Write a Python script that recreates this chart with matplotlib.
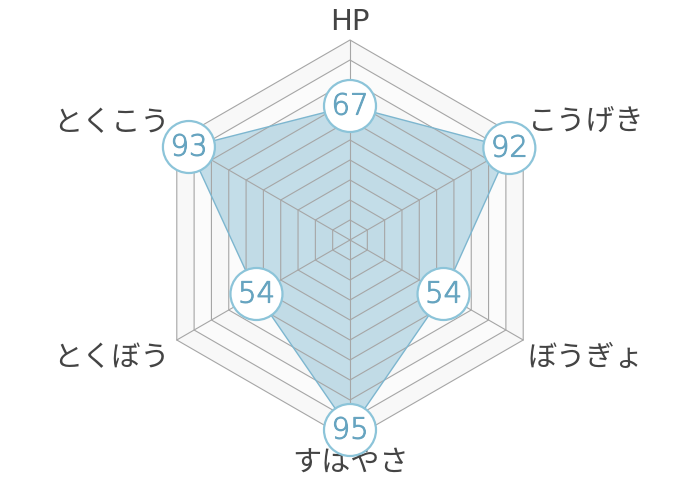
import numpy as np
import matplotlib
matplotlib.use("Agg")
import matplotlib.pyplot as plt
import matplotlib.patheffects as pe
from matplotlib.patches import Polygon, Circle

plt.rcParams['font.family'] = ['DejaVu Sans', 'Noto Sans CJK JP']

# stats, clockwise from top
labels = ["HP", "こうげき", "ぼうぎょ", "すはやさ", "とくぼう", "とくこう"]
values = [67, 92, 54, 95, 54, 93]
max_value = 100
ring_step = 10

angles = np.deg2rad(np.arange(0, 360, 60))


def to_xy(r, a):
    return r * np.sin(a), r * np.cos(a)


fig = plt.figure(figsize=(7, 4.8), dpi=100)
ax = fig.add_axes([0, 0, 1, 1])
ax.set_xlim(-175, 175)
ax.set_ylim(-120, 120)
ax.set_aspect("equal")
ax.axis("off")

# background bands + ring lines
rings = np.arange(max_value, 0, -ring_step)
for i, r in enumerate(rings):
    pts = np.array([to_xy(r, a) for a in angles])
    ax.add_patch(Polygon(pts, closed=True, facecolor="#f8f8f8" if i % 2 == 0 else "#fbfbfb",
                         edgecolor="none", zorder=1))
for r in rings:
    pts = np.array([to_xy(r, a) for a in angles])
    ax.add_patch(Polygon(pts, closed=True, fill=False, edgecolor="#a6a6a6", lw=0.8, zorder=3))

# spokes
for a in angles:
    x, y = to_xy(max_value, a)
    ax.plot([0, x], [0, y], color="#a6a6a6", lw=0.8, zorder=3)

# data polygon
data_pts = np.array([to_xy(v, a) for v, a in zip(values, angles)])
ax.add_patch(Polygon(data_pts, closed=True, facecolor="#8cc0d6", alpha=0.5,
                     edgecolor="none", zorder=2))
ax.add_patch(Polygon(data_pts, closed=True, fill=False, edgecolor="#7db6cf", lw=1.0, zorder=4))

# value badges
num_color = "#66a4c0"
for (x, y), v in zip(data_pts, values):
    ax.add_patch(Circle((x, y), 13, facecolor="white", edgecolor="#8cc4d9", lw=1.6, zorder=5))
    ax.text(x, y - 0.3, str(v), ha="center", va="center", fontsize=21, color=num_color,
            fontweight="light", zorder=6,
            path_effects=[pe.withStroke(linewidth=0.7, foreground=num_color)])

# axis labels
label_pos = [
    (0, 109, "center"),
    (89, 58.5, "left"),
    (89, -59, "left"),
    (0, -112, "center"),
    (-90, -59, "right"),
    (-90, 58.5, "right"),
]
for (x, y, ha), lab in zip(label_pos, labels):
    ax.text(x, y, lab, ha=ha, va="center", fontsize=21, color="#444444")

fig.savefig("out.png", dpi=100)
